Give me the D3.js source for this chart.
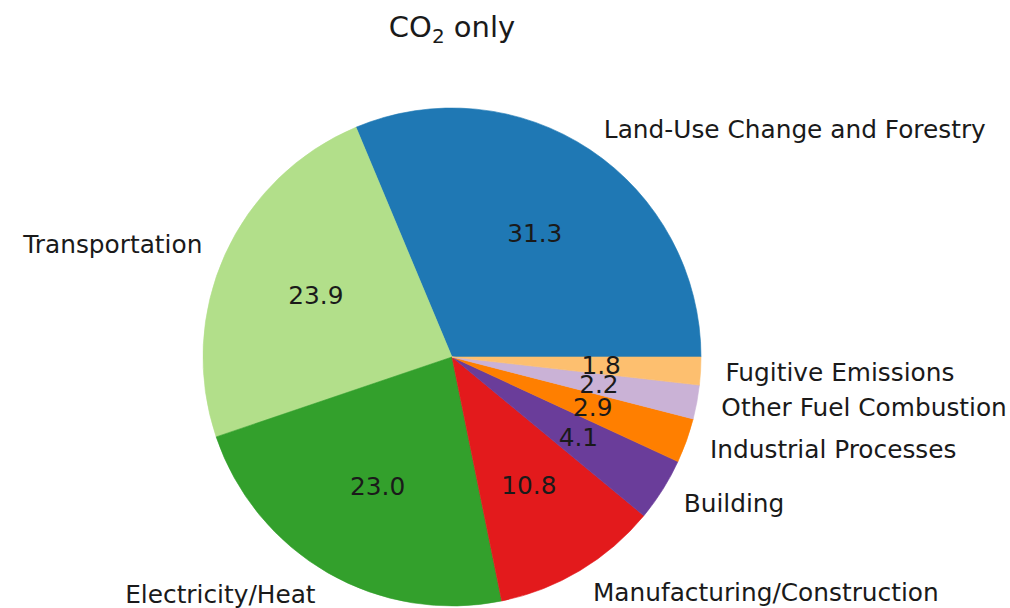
<!DOCTYPE html>
<html>
<head>
<meta charset="utf-8">
<script src="https://cdn.jsdelivr.net/npm/d3@7"></script>
<style>
  html, body { margin: 0; padding: 0; background: #fff; }
  svg { display: block; font-family: "DejaVu Sans", sans-serif; }
</style>
</head>
<body>
<svg id="chart" width="1010" height="608"></svg>
<script>
// Sector shares of CO2 emissions (percent)
const categories = [
  "Land-Use Change and Forestry",
  "Transportation",
  "Electricity/Heat",
  "Manufacturing/Construction",
  "Building",
  "Industrial Processes",
  "Other Fuel Combustion",
  "Fugitive Emissions"
];
const shares = [31.3, 23.9, 23.0, 10.8, 4.1, 2.9, 2.2, 1.8];
const colors = ["#1f78b4", "#b2df8a", "#33a02c", "#e31a1c", "#6a3d9a", "#ff7f00", "#cab2d6", "#fdbf6f"];

const svg = d3.select("#chart");
const cx = 452, cy = 357, radius = 249;
const fontSize = 24.8;

// Wedges run counter-clockwise starting from the positive x axis
const total = d3.sum(shares);
const toAngle = d3.scaleLinear().domain([0, total]).range([0, 2 * Math.PI]);
let acc = 0;
const slices = shares.map((v, i) => {
  const s = { value: v, label: categories[i], color: colors[i], a0: toAngle(acc), a1: toAngle(acc + v) };
  acc += v;
  s.mid = (s.a0 + s.a1) / 2;
  return s;
});

// d3.arc measures angles clockwise from 12 o'clock; convert math angles
const arc = d3.arc().innerRadius(0).outerRadius(radius);
const toD3 = a => Math.PI / 2 - a;

const g = svg.append("g").attr("transform", `translate(${cx},${cy})`);

g.selectAll("path.wedge")
  .data(slices)
  .join("path")
  .attr("class", "wedge")
  .attr("d", d => arc({ startAngle: toD3(d.a1), endAngle: toD3(d.a0) }))
  .attr("fill", d => d.color)
  .attr("stroke", d => d.color)
  .attr("stroke-width", 0.6);

// Category labels just outside the rim
const labelR = radius * 1.1;
g.selectAll("text.cat")
  .data(slices)
  .join("text")
  .attr("class", "cat")
  .attr("x", d => labelR * Math.cos(d.mid))
  .attr("y", d => -labelR * Math.sin(d.mid))
  .attr("dy", "0.36em")
  .attr("text-anchor", d => Math.cos(d.mid) >= 0 ? "start" : "end")
  .attr("font-size", fontSize)
  .attr("fill", "#1a1a1a")
  .text(d => d.label);

// Percentage labels inside the wedges
const pctR = radius * 0.6;
g.selectAll("text.pct")
  .data(slices)
  .join("text")
  .attr("class", "pct")
  .attr("x", d => pctR * Math.cos(d.mid))
  .attr("y", d => -pctR * Math.sin(d.mid))
  .attr("dy", "0.36em")
  .attr("text-anchor", "middle")
  .attr("font-size", fontSize)
  .attr("fill", "#1a1a1a")
  .text(d => d3.format(".1f")(d.value));

// Title with subscript
const title = svg.append("text")
  .attr("x", cx)
  .attr("y", 37)
  .attr("text-anchor", "middle")
  .attr("font-size", 29)
  .attr("fill", "#1a1a1a");
title.append("tspan").text("CO");
title.append("tspan").attr("font-size", 20).attr("dy", 6).text("2");
title.append("tspan").attr("dy", -6).text("\u00a0only");
</script>
</body>
</html>
